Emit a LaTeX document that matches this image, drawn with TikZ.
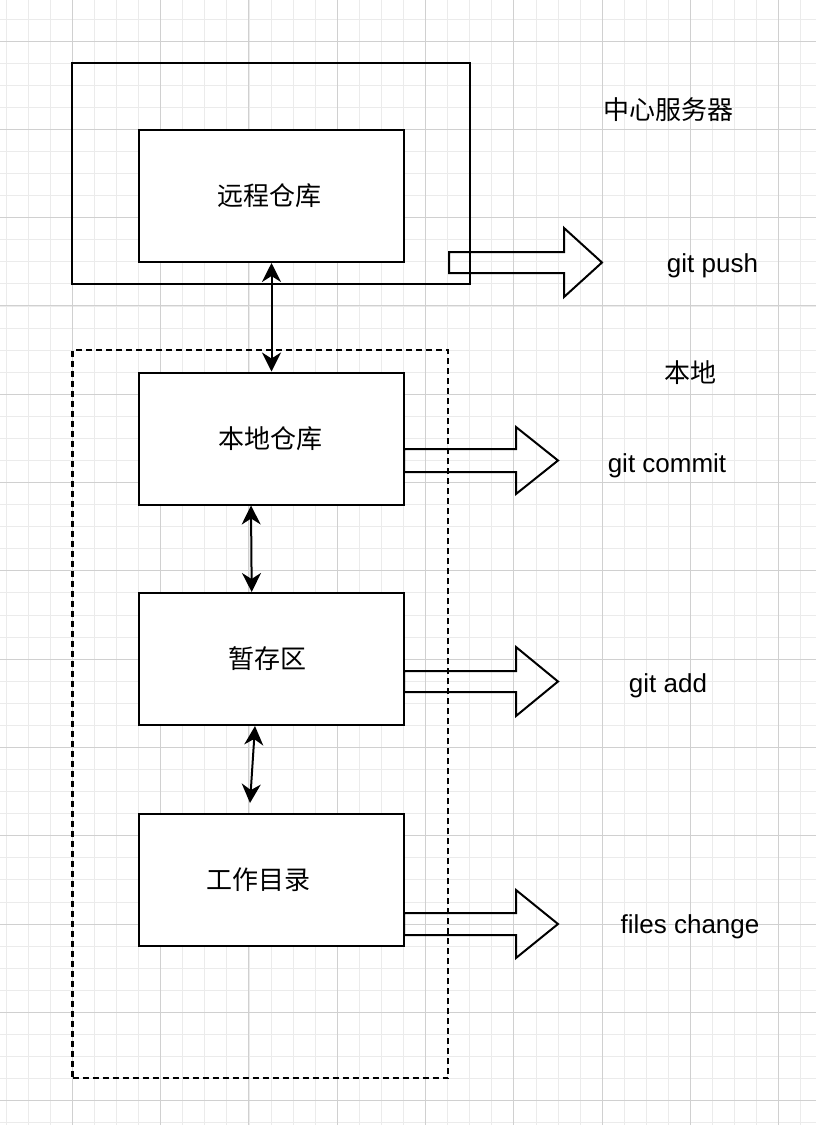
\documentclass[tikz,border=0pt]{standalone}
\usepackage{fontspec}
\setmainfont{Liberation Sans}
\newfontfamily\cjk{Noto Sans CJK SC}
\usetikzlibrary{arrows.meta}
\definecolor{gridmajor}{HTML}{D0D0D0}
\definecolor{gridminor}{HTML}{EBEBEB}
\newcommand\myblockarrow[6]{%
  \draw[blockarrow] (#1,{#2-#5}) -- (#3,{#2-#5}) -- (#3,{#2-#6}) -- (#4,#2)
    -- (#3,{#2+#6}) -- (#3,{#2+#5}) -- (#1,{#2+#5}) -- cycle;}
\tikzset{
  gridminorline/.style={draw=gridminor, line width=0.8pt},
  gridmajorline/.style={draw=gridmajor, line width=1pt},
  box/.style={draw, fill=white, line width=2pt, inner sep=0pt,
    minimum width=265pt, minimum height=132pt,
    font=\cjk\fontsize{26}{30}\selectfont},
  framebox/.style={draw, line width=2pt, inner sep=0pt},
  dashbox/.style={draw, line width=2.2pt, inner sep=0pt, dash pattern=on 6pt off 4pt},
  blockarrow/.style={draw, line width=2pt, line join=miter},
  dbl/.style={line width=2pt, {Stealth[length=19pt,width=19pt,inset=6pt]}-{Stealth[length=19pt,width=19pt,inset=6pt]}},
  cjklabel/.style={inner sep=0pt, font=\cjk\fontsize{26}{30}\selectfont},
  latlabel/.style={inner sep=0pt, anchor=base, font=\fontsize{26}{30}\selectfont}
}
\begin{document}
\begin{tikzpicture}[x=1pt,y=-1pt]
\useasboundingbox (0,0) rectangle (816,1125);
\fill[white] (0,0) rectangle (816,1125);
% grid
\foreach \i in {0,...,37} {
  \draw[gridminorline] ({6.1+22.075*\i},0) -- ({6.1+22.075*\i},1125);
}
\foreach \i in {0,...,51} {
  \draw[gridminorline] (0,{-3.15+22.075*\i}) -- (816,{-3.15+22.075*\i});
}
\foreach \i in {0,...,9} {
  \draw[gridmajorline] ({72.3+88.3*(\i-1)},0) -- ({72.3+88.3*(\i-1)},1125);
}
\foreach \i in {0,...,12} {
  \draw[gridmajorline] (0,{41+88.3*\i}) -- (816,{41+88.3*\i});
}
% containers
\node[framebox, minimum width=398pt, minimum height=220.5pt] (server) at (271,173.25) {};
\node[dashbox, minimum width=375.5pt, minimum height=728pt] (localarea) at (260.25,714) {};
% block arrows
\myblockarrow{449}{262.5}{564}{602}{10.5}{34.5}
\myblockarrow{404}{460.5}{516}{558}{11.5}{33.5}
\myblockarrow{404}{681.5}{516}{558}{10.5}{34.5}
\myblockarrow{404}{924}{516}{558}{11}{34}
% boxes
\node[box] (remote) at (271.5,196) {远程仓库\kern5pt};
\node[box] (localrepo) at (271.5,438.5) {本地仓库\kern3pt};
\node[box] (staging) at (271.5,659) {暂存区\kern8pt};
\node[box] (working) at (271.5,880) {工作目录\kern26pt};
% double arrows
\coordinate (wend) at (250,803);
\draw[dbl] (remote.south) -- (localrepo.north);
\draw[dbl] ([xshift=-20.5pt]localrepo.south) -- ([xshift=-19.8pt]staging.north);
\draw[dbl] ([xshift=-16.5pt]staging.south) -- (wend);
% labels
\node[cjklabel] (lserver) at (668,110) {中心服务器};
\node[cjklabel] (llocal) at (690,373) {本地};
\node[latlabel] (lpush) at (712.5,272) {git push};
\node[latlabel] (lcommit) at (667,472) {git commit};
\node[latlabel] (ladd) at (668,692) {git add};
\node[latlabel] (lfiles) at (690,933) {files change};
\end{tikzpicture}
\end{document}
